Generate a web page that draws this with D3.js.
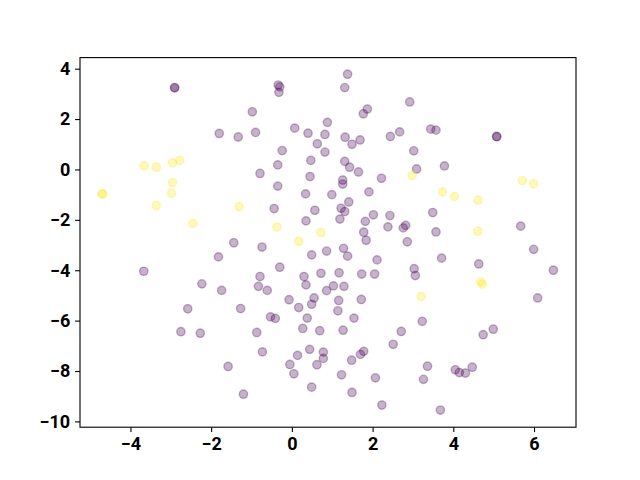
<!DOCTYPE html>
<html>
<head>
<meta charset="utf-8">
<script src="https://cdn.jsdelivr.net/npm/d3@7"></script>
<style>
  body { margin: 0; background: #fff; }
  svg text { font-family: Roboto, "DejaVu Sans", sans-serif; font-weight: bold; }
</style>
</head>
<body>
<svg id="chart" width="640" height="480"></svg>
<script>
// class 0 points (purple)
const purpleX = [-2.90, -2.91, -0.34, -0.30, -0.32, -0.98, -1.80, -1.33, -0.90, 0.07, 0.40, 0.82, 0.88, 0.63, 0.82,
  -0.24, 0.47, -0.35, -0.79, 0.45, -0.35, 0.34, 0.99, -0.44, 0.57, 0.35, -1.44, -0.74,
  1.38, 1.31, 2.92, 1.87, 1.77, 1.32, 1.49, 1.69, 2.44, 2.67, 3.44, 3.57, 5.07, 5.08, 3.02, 1.31, 1.43, 1.65,
  3.09, 3.78, 2.22, 1.26, 1.26, 1.91, 1.41, 1.22, 1.31, 1.19, 1.82, 2.02, 2.43, 2.38, 2.76, 2.82, 3.49, 3.57,
  1.78, 1.84, 2.86, 5.67,
  0.86, 0.49, -1.82, -0.30, -3.67, -0.79, 0.30, 0.72, 0.35, -2.23, -1.74, -0.83, -0.61, 0.86, 0.55, 0.49,
  -0.07, 0.17, -2.58, -1.27, -0.53, -0.41, 0.38, 0.27, 0.69, -2.75, -2.27, -0.87, -0.73, 0.44, 0.78, 0.78,
  0.14, -0.05, 0.62, 0.05, -1.58, 0.49, -1.20,
  1.28, 1.38, 2.11, 1.73, 2.05, 1.17, 1.03, 1.29, 1.16, 1.14, 1.72, 1.54, 1.27, 2.71, 2.51, 3.03, 3.06, 3.71,
  4.63, 5.99, 6.48, 6.09, 3.23, 4.99, 4.74, 1.70, 1.78, 1.48, 1.23, 1.49, 2.07, 2.23, 3.36, 3.26, 4.05, 4.15,
  4.30, 4.47, 3.68];
const purpleY = [3.24, 3.25, 3.35, 3.28, 3.06, 2.29, 1.43, 1.29, 1.47, 1.64, 1.44, 1.39, 1.87, 1.02, 0.69,
  0.75, 0.36, 0.18, -0.16, -0.28, -0.66, -0.97, -1.00, -1.55, -1.62, -2.04, -2.91, -3.08,
  3.78, 3.25, 2.68, 2.40, 2.21, 1.28, 1.00, 1.17, 1.31, 1.49, 1.60, 1.56, 1.31, 1.30, 0.74, 0.32, 0.09, -0.10,
  0.02, 0.14, -0.35, -0.42, -0.58, -0.89, -1.29, -1.54, -1.67, -1.97, -2.06, -1.80, -1.83, -2.28, -2.32, -2.22, -1.71, -2.48,
  -2.49, -2.81, -2.87, -2.25,
  -3.24, -3.39, -3.47, -3.88, -4.04, -4.25, -4.25, -4.12, -4.58, -4.54, -4.80, -4.64, -4.80, -4.81, -5.10, -5.35,
  -5.17, -5.48, -5.53, -5.52, -5.85, -5.91, -5.90, -6.31, -6.40, -6.44, -6.50, -6.47, -7.24, -7.14, -7.25, -7.50,
  -7.38, -7.74, -7.75, -8.11, -7.82, -8.64, -8.92,
  -3.13, -3.44, -3.59, -4.15, -4.15, -4.10, -4.62, -4.64, -5.20, -5.61, -5.16, -5.90, -6.38, -6.43, -6.94, -3.94, -4.21, -3.52,
  -3.75, -3.17, -4.00, -5.10, -6.03, -6.34, -6.56, -7.34, -7.22, -7.57, -8.15, -8.85, -8.27, -9.35, -7.81, -8.33, -7.95, -8.06,
  -8.08, -7.85, -9.55];

// class 1 points (yellow)
const yellowX = [-4.69, -4.70, -3.66, -3.36, -2.96, -2.78, -2.96, -2.98, -3.36, -2.45, -1.31, -0.37, 0.17, 0.72,
  2.98, 3.73, 4.03, 4.61, 5.71, 5.99, 4.61, 3.20, 4.68, 4.72];
const yellowY = [-0.97, -0.97, 0.14, 0.09, 0.26, 0.36, -0.52, -0.94, -1.43, -2.14, -1.47, -2.29, -2.85, -2.50,
  -0.24, -0.89, -1.07, -1.22, -0.44, -0.57, -2.45, -5.04, -4.46, -4.55];

const xTicks = [-4, -2, 0, 2, 4, 6];
const yTicks = [4, 2, 0, -2, -4, -6, -8, -10];

const margin = { left: 80, right: 64, top: 57.6, bottom: 52.8 };
const width = 640, height = 480;

const svg = d3.select("#chart");

const x = d3.scaleLinear()
  .domain([-5.25, 7.04])
  .range([margin.left, width - margin.right]);

const y = d3.scaleLinear()
  .domain([-10.23, 4.44])
  .range([height - margin.bottom, margin.top]);

const points = [];
purpleX.forEach((v, i) => points.push({ x: v, y: purpleY[i], c: "#440154" }));
yellowX.forEach((v, i) => points.push({ x: v, y: yellowY[i], c: "#fde725" }));

svg.append("g")
  .selectAll("circle")
  .data(points)
  .enter()
  .append("circle")
  .attr("cx", d => x(d.x))
  .attr("cy", d => y(d.y))
  .attr("r", 4.17)
  .attr("fill", d => d.c)
  .attr("fill-opacity", 0.3)
  .attr("stroke", d => d.c)
  .attr("stroke-opacity", 0.3)
  .attr("stroke-width", 1.4);

// frame
svg.append("rect")
  .attr("x", margin.left)
  .attr("y", margin.top)
  .attr("width", width - margin.left - margin.right)
  .attr("height", height - margin.top - margin.bottom)
  .attr("fill", "none")
  .attr("stroke", "#000")
  .attr("stroke-width", 1.1);

const fmt = d => d < 0 ? "\u2212" + Math.abs(d) : String(d);

const xAxis = svg.append("g")
  .attr("transform", `translate(0,${height - margin.bottom})`)
  .call(d3.axisBottom(x).tickValues(xTicks).tickFormat(fmt).tickSize(4.9).tickPadding(4.9));

const yAxis = svg.append("g")
  .attr("transform", `translate(${margin.left},0)`)
  .call(d3.axisLeft(y).tickValues(yTicks).tickFormat(fmt).tickSize(4.9).tickPadding(4.9));

[xAxis, yAxis].forEach(g => {
  g.select(".domain").remove();
  g.selectAll(".tick line").attr("stroke", "#000").attr("stroke-width", 1.1);
  g.selectAll(".tick text")
    .attr("fill", "#000")
    .style("font-size", "18px")
    .style("font-family", "Roboto, 'DejaVu Sans', sans-serif")
    .style("font-weight", "bold");
});
</script>
</body>
</html>
